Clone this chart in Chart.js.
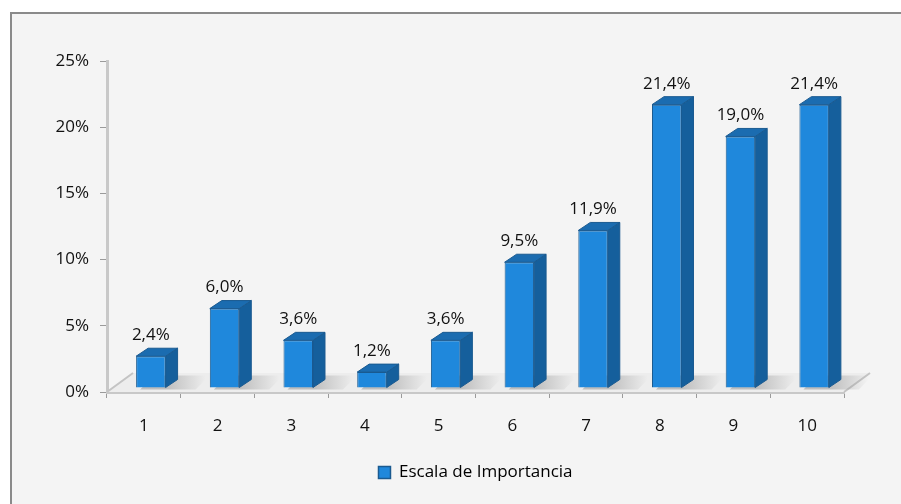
<!DOCTYPE html>
<html>
<head>
<meta charset="utf-8">
<script src="https://cdn.jsdelivr.net/npm/chart.js@4"></script>
<style>
  html, body { margin: 0; padding: 0; background: #fff; }
  #wrap { width: 901px; height: 504px; }
</style>
</head>
<body>
<div id="wrap"><canvas id="chart" width="901" height="504"></canvas></div>
<script>
const categories = ["1", "2", "3", "4", "5", "6", "7", "8", "9", "10"];
const importancia = [2.4, 6.0, 3.6, 1.2, 3.6, 9.5, 11.9, 21.4, 19.0, 21.4];
const yTicks = [0, 5, 10, 15, 20, 25];
const seriesName = "Escala de Importancia";

const FONT = "'Open Sans', sans-serif";
// fake 3D depth of the bars and the floor
const depth = { dx: 12, dy: -8 };
const shift = { x: 7, y: -4 };
const floor = { dx: 26, dy: -19 };

const fmt = v => v.toFixed(1).replace(".", ",") + "%";

// background + cropped frame (only top and left edges visible)
const frame = {
  id: "frame",
  afterLayout(chart) {
    // centre the legend under the plot instead of the whole canvas
    const lg = chart.legend;
    const mid = (chart.chartArea.left + chart.chartArea.right) / 2;
    const off = mid - (lg.left + lg.right) / 2;
    lg.left += off;
    lg.right += off;
  },
  beforeDraw(chart) {
    const c = chart.ctx;
    c.save();
    c.fillStyle = "#ffffff";
    c.fillRect(0, 0, chart.width, chart.height);
    c.fillStyle = "#f4f4f4";
    c.fillRect(11, 13, chart.width, chart.height);
    c.strokeStyle = "#8a8a8a";
    c.lineWidth = 2;
    c.beginPath();
    c.moveTo(11, chart.height);
    c.lineTo(11, 13);
    c.lineTo(chart.width, 13);
    c.stroke();
    c.restore();
  }
};

const bars3d = {
  id: "bars3d",
  beforeDatasetsDraw(chart) {
    const c = chart.ctx;
    const { left, right, bottom } = chart.chartArea;
    const bars = chart.getDatasetMeta(0).data;
    c.save();
    // floor
    c.fillStyle = "#ededed";
    c.beginPath();
    c.moveTo(left, bottom);
    c.lineTo(right, bottom);
    c.lineTo(right + floor.dx, bottom + floor.dy);
    c.lineTo(left + floor.dx, bottom + floor.dy);
    c.closePath();
    c.fill();
    c.strokeStyle = "#c4c4c4";
    c.lineWidth = 2;
    c.beginPath();
    c.moveTo(left, bottom);
    c.lineTo(left + floor.dx, bottom + floor.dy);
    c.moveTo(right, bottom);
    c.lineTo(right + floor.dx, bottom + floor.dy);
    c.stroke();
    // soft shadows behind bars
    bars.forEach(b => {
      const x0 = b.x - b.width / 2 + shift.x;
      const base = b.base + shift.y;
      const g = c.createLinearGradient(x0 + b.width, 0, x0 + b.width + 40, 0);
      g.addColorStop(0, "rgba(150,150,150,0.55)");
      g.addColorStop(1, "rgba(150,150,150,0)");
      c.fillStyle = g;
      c.beginPath();
      c.moveTo(x0 + 4, base + 2);
      c.lineTo(x0 + b.width + 30, base + 2);
      c.lineTo(x0 + b.width + 44, base - 12);
      c.lineTo(x0 + 18, base - 12);
      c.closePath();
      c.fill();
    });
    c.restore();
    c.save();
    c.translate(shift.x, shift.y);
  },
  afterDatasetsDraw(chart) {
    const c = chart.ctx;
    const bars = chart.getDatasetMeta(0).data;
    c.lineWidth = 1;
    c.strokeStyle = "#1a5a90";
    bars.forEach(b => {
      const l = b.x - b.width / 2, r = b.x + b.width / 2;
      // side face
      c.fillStyle = "#155f9c";
      c.beginPath();
      c.moveTo(r, b.y);
      c.lineTo(r + depth.dx, b.y + depth.dy);
      c.lineTo(r + depth.dx, b.base + depth.dy);
      c.lineTo(r, b.base);
      c.closePath();
      c.fill();
      c.stroke();
      // top face
      c.fillStyle = "#1b6cb0";
      c.beginPath();
      c.moveTo(l, b.y);
      c.lineTo(l + depth.dx, b.y + depth.dy);
      c.lineTo(r + depth.dx, b.y + depth.dy);
      c.lineTo(r, b.y);
      c.closePath();
      c.fill();
      c.stroke();
    });
    c.restore();
    // value labels
    c.save();
    c.fillStyle = "#111";
    c.font = "17px " + FONT;
    c.textAlign = "center";
    c.textBaseline = "middle";
    bars.forEach((b, i) => {
      c.fillText(fmt(importancia[i]), b.x + shift.x, b.y + shift.y + depth.dy - 13);
    });
    c.restore();
  }
};

const ctx = document.querySelector("#chart");

const myChart = new Chart(ctx, {
  type: "bar",
  data: {
    labels: categories,
    datasets: [
      {
        label: seriesName,
        data: importancia,
        backgroundColor: "#1f88dc",
        borderColor: "#1a5a90",
        borderWidth: 1,
        barPercentage: 0.4,
        categoryPercentage: 1,
        clip: false,
      },
    ],
  },
  options: {
    responsive: false,
    animation: false,
    events: [],
    layout: { padding: { top: 61, right: 57, left: 0, bottom: 13 } },
    plugins: {
      tooltip: { enabled: false },
      legend: {
        position: "bottom",
        labels: {
          color: "#111",
          font: { family: FONT, size: 17 },
          boxWidth: 12,
          boxHeight: 12,
          padding: 10,
          generateLabels: () => [{
            text: seriesName,
            fillStyle: "#1f88dc",
            strokeStyle: "#1a5a90",
            lineWidth: 1.5,
          }],
        },
      },
    },
    scales: {
      y: {
        min: 0,
        max: 25,
        afterFit: s => { s.width = 107; },
        afterBuildTicks: s => { s.ticks = yTicks.map(v => ({ value: v })); },
        ticks: {
          color: "#111",
          font: { family: FONT, size: 17 },
          padding: 11,
          callback: v => v + "%",
        },
        grid: { drawOnChartArea: false, drawTicks: true, tickLength: 7, color: "#9a9a9a" },
        border: { color: "#c8c8c8", width: 3 },
      },
      x: {
        afterFit: s => { s.height = 62; },
        ticks: {
          color: "#111",
          font: { family: FONT, size: 17 },
          padding: 18,
        },
        grid: { drawOnChartArea: false, drawTicks: true, tickLength: 6, color: "#9a9a9a", offset: true },
        border: { color: "#c8c8c8", width: 3 },
      },
    },
  },
  plugins: [frame, bars3d],
});
</script>
</body>
</html>
